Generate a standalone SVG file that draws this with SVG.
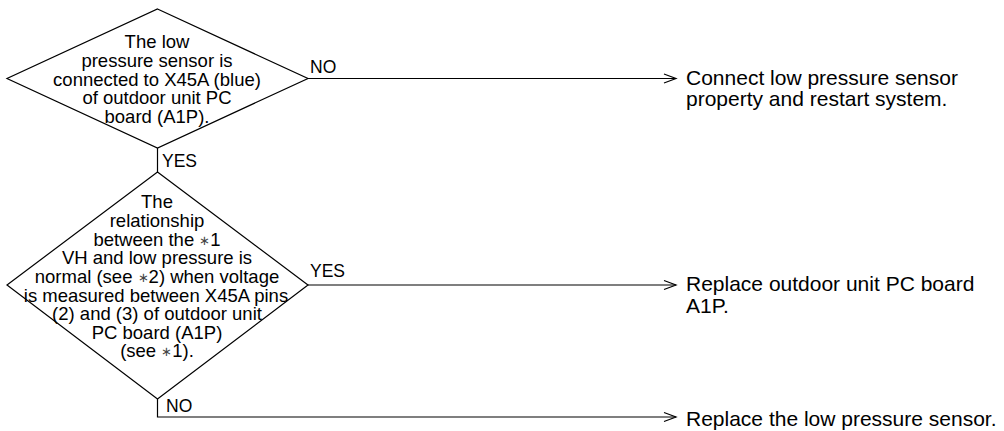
<svg xmlns="http://www.w3.org/2000/svg" width="1004" height="431" viewBox="0 0 1004 431">
  <style>
    .shape { fill: #ffffff; stroke: #000000; stroke-width: 1.2; }
    .conn { fill: none; stroke: #000000; stroke-width: 1.2; }
    .dt { font-family: "Liberation Sans", Arial, sans-serif; font-size: 18.5px; fill: #000; text-anchor: middle; }
    .ast { font-size: 13px; fill: #444; }
    .lbl { font-family: "Liberation Sans", Arial, sans-serif; font-size: 17.5px; fill: #000; }
    .rt { font-family: "Liberation Sans", Arial, sans-serif; font-size: 21px; fill: #000; }
  </style>
  <defs>
    <marker id="chev" markerUnits="userSpaceOnUse" markerWidth="16" markerHeight="12" refX="13" refY="6" orient="auto">
      <path d="M1,1.5 L13,6 L1,10.5" fill="none" stroke="#000" stroke-width="1.2"/>
    </marker>
  </defs>
  <g id="connectors">
    <line class="conn" x1="157.5" y1="148" x2="157.5" y2="172"/>
    <line class="conn" x1="308" y1="78.5" x2="676" y2="78.5" marker-end="url(#chev)"/>
    <line class="conn" x1="308" y1="285" x2="676" y2="285" marker-end="url(#chev)"/>
    <polyline class="conn" points="157.5,399 157.5,417 676,417" marker-end="url(#chev)"/>
    <text class="lbl" x="310" y="73">NO</text>
    <text class="lbl" x="162" y="167">YES</text>
    <text class="lbl" x="310" y="277">YES</text>
    <text class="lbl" x="166" y="412">NO</text>
  </g>
  <g id="decision1">
    <polygon class="shape" points="157.5,9 308,78.5 157.5,148 7,78.5"/>
    <text class="dt" x="157" y="48">The low</text>
    <text class="dt" x="157" y="67">pressure sensor is</text>
    <text class="dt" x="157" y="86">connected to X45A (blue)</text>
    <text class="dt" x="157" y="104">of outdoor unit PC</text>
    <text class="dt" x="157" y="123">board (A1P).</text>
  </g>
  <g id="decision2">
    <polygon class="shape" points="157.5,172 308,285 157.5,399 7,285"/>
    <text class="dt" x="157" y="208">The</text>
    <text class="dt" x="157" y="227">relationship</text>
    <text class="dt" x="157" y="246">between the <tspan class="ast" dy="-1">∗</tspan><tspan dy="1">1</tspan></text>
    <text class="dt" x="157" y="264">VH and low pressure is</text>
    <text class="dt" x="157" y="283">normal (see <tspan class="ast" dy="-1">∗</tspan><tspan dy="1">2) when voltage</tspan></text>
    <text class="dt" x="156" y="302">is measured between X45A pins</text>
    <text class="dt" x="157" y="320">(2) and (3) of outdoor unit</text>
    <text class="dt" x="157" y="339">PC board (A1P)</text>
    <text class="dt" x="157" y="357">(see <tspan class="ast" dy="-1">∗</tspan><tspan dy="1">1).</tspan></text>
  </g>
  <g id="result1">
    <text class="rt" x="686" y="85">Connect low pressure sensor</text>
    <text class="rt" x="686" y="106">property and restart system.</text>
  </g>
  <g id="result2">
    <text class="rt" x="686" y="291">Replace outdoor unit PC board</text>
    <text class="rt" x="686" y="313">A1P.</text>
  </g>
  <g id="result3">
    <text class="rt" x="686" y="426">Replace the low pressure sensor.</text>
  </g>
</svg>
